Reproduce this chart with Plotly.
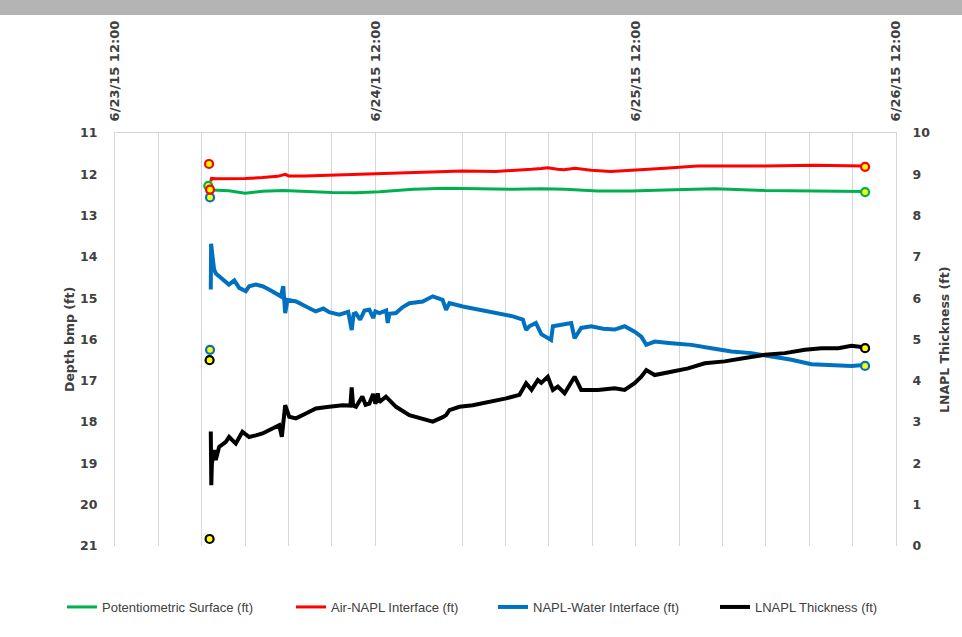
import pandas as pd
import plotly.graph_objects as go

# ---------------- data (hours after 6/23/15 12:00) ----------------
BASE_TIME = "2015-06-23 12:00"

X_TICK_HOURS = [0, 24, 48, 72]
X_TICK_TEXT = ["6/23/15 12:00", "6/24/15 12:00", "6/25/15 12:00", "6/26/15 12:00"]
X_GRID_HOURS = [4, 8, 12, 16, 20, 32, 36, 40, 44, 52, 56, 60, 64, 68]
Y_LEFT_TICKS = [11, 12, 13, 14, 15, 16, 17, 18, 19, 20, 21]
Y_RIGHT_TICKS = [0, 1, 2, 3, 4, 5, 6, 7, 8, 9, 10]
Y_GRID_VALUES = [11, 12, 16, 17, 18]

SERIES_NAMES = ["Potentiometric Surface (ft)", "Air-NAPL Interface (ft)",
                "NAPL-Water Interface (ft)", "LNAPL Thickness (ft)"]

GREEN_H = [8.95, 10.5, 12.0, 13.6, 15.5, 18.2, 20.0, 22.2, 24.4, 27.5, 30.5, 33.6,
           36.7, 39.3, 41.5, 44.5, 47.6, 50.7, 55.3, 59.9, 64.5, 66.1, 69.0]
GREEN_V = [12.38, 12.40, 12.46, 12.41, 12.39, 12.43, 12.44, 12.445, 12.42, 12.365,
           12.34, 12.35, 12.365, 12.35, 12.365, 12.405, 12.405, 12.38, 12.35, 12.39,
           12.405, 12.42, 12.415]

RED_H = [8.83, 8.90, 9.30, 10.5, 12.0, 13.6, 15.0, 15.7, 16.0, 17.5, 19.7, 21.5,
         22.8, 24.0, 25.9, 28.9, 32.0, 35.1, 37.6, 38.4, 39.3, 39.9, 40.8, 41.4,
         42.4, 43.9, 45.7, 47.9, 50.7, 53.7, 56.8, 59.9, 64.5, 69.0]
RED_V = [12.17, 12.10, 12.11, 12.11, 12.10, 12.08, 12.05, 12.00, 12.04, 12.04,
         12.02, 12.01, 12.00, 11.98, 11.96, 11.94, 11.92, 11.93, 11.90, 11.88,
         11.86, 11.84, 11.88, 11.89, 11.855, 11.90, 11.93, 11.90, 11.855, 11.80,
         11.80, 11.80, 11.78, 11.80]

BLUE_H = [8.83, 8.86, 8.95, 9.14, 9.30, 9.60, 10.2, 10.5, 11.0, 11.45,
          12.06, 12.37, 12.98, 13.6, 14.2, 14.83, 15.29, 15.51, 15.69, 15.9,
          16.7, 17.6, 18.5, 19.2, 19.75, 20.68, 21.5, 21.82, 22.0, 22.2,
          22.6, 23.0, 23.45, 23.8, 24.0, 24.37, 25.0, 25.14, 25.3, 25.9,
          26.5, 27.14, 28.37, 29.29, 30.2, 30.52, 30.83, 32.06, 33.6, 35.14,
          36.68, 37.6, 37.9, 38.2, 38.8, 39.3, 39.9, 40.2, 40.37, 41.45,
          42.06, 42.37, 42.98, 43.9, 45.0, 46.06, 46.98, 47.9, 48.52, 48.98,
          49.75, 51.29, 53.14, 54.98, 56.83, 58.68, 60.52, 62.37, 64.2, 66.06,
          67.9, 69.0]
BLUE_V = [14.79, 13.68, 13.90, 14.31, 14.40, 14.47, 14.59, 14.67, 14.57, 14.75,
          14.83, 14.71, 14.67, 14.71, 14.79, 14.87, 14.955, 14.71, 15.36, 15.04,
          15.08, 15.20, 15.32, 15.25, 15.34, 15.40, 15.33, 15.77, 15.38, 15.36,
          15.52, 15.30, 15.28, 15.48, 15.32, 15.36, 15.30, 15.60, 15.38, 15.36,
          15.22, 15.12, 15.08, 14.955, 15.04, 15.28, 15.12, 15.20, 15.28, 15.36,
          15.44, 15.52, 15.77, 15.68, 15.60, 15.87, 15.98, 16.01, 15.68, 15.64,
          15.60, 15.97, 15.72, 15.68, 15.74, 15.76, 15.68, 15.81, 15.93, 16.13,
          16.05, 16.09, 16.13, 16.21, 16.29, 16.33, 16.41, 16.49, 16.60, 16.615,
          16.64, 16.62]

BLACK_H = [8.83, 8.88, 8.93, 9.14, 9.29, 9.60, 10.22, 10.52, 11.14, 11.75,
           12.37, 12.98, 13.6, 14.52, 15.14, 15.38, 15.69, 16.06, 16.68, 17.6,
           18.52, 19.75, 20.98, 21.7, 21.82, 21.95, 22.22, 22.8, 23.1, 23.45,
           23.8, 24.0, 24.1, 24.22, 24.35, 24.98, 25.91, 27.14, 28.37, 29.29,
           30.22, 30.52, 30.83, 31.75, 32.98, 34.52, 36.06, 37.29, 37.9, 38.4,
           38.98, 39.3, 39.9, 40.37, 40.83, 41.45, 42.37, 42.98, 44.52, 46.06,
           46.98, 47.9, 48.52, 48.98, 49.75, 51.29, 52.83, 54.37, 56.2, 58.06,
           59.9, 61.75, 63.6, 65.14, 66.68, 67.9, 69.0]
BLACK_V = [2.77, 1.47, 2.00, 2.32, 2.08, 2.40, 2.52, 2.64, 2.48, 2.765,
           2.64, 2.68, 2.725, 2.846, 2.927, 2.644, 3.41, 3.13, 3.09, 3.21,
           3.33, 3.37, 3.41, 3.40, 3.84, 3.40, 3.37, 3.62, 3.42, 3.45,
           3.68, 3.45, 3.50, 3.70, 3.48, 3.615, 3.37, 3.17, 3.09, 3.01,
           3.12, 3.17, 3.29, 3.37, 3.41, 3.49, 3.575, 3.66, 3.94, 3.78,
           4.02, 3.95, 4.10, 3.78, 3.86, 3.70, 4.10, 3.78, 3.78, 3.82,
           3.78, 3.94, 4.10, 4.26, 4.14, 4.22, 4.30, 4.425, 4.47, 4.55,
           4.63, 4.67, 4.75, 4.79, 4.79, 4.85, 4.81]

# manual gauging points
GREEN_MAN_H = [8.60, 69.15]
GREEN_MAN_V = [12.28, 12.43]
RED_MAN_H = [8.67, 8.76, 69.15]
RED_MAN_V = [11.75, 12.37, 11.82]
BLUE_MAN_H = [8.76, 8.76, 69.15]
BLUE_MAN_V = [12.56, 16.25, 16.64]
BLACK_MAN_H = [8.72, 8.72, 69.15]
BLACK_MAN_V = [4.50, 0.17, 4.79]

# ---------------- helpers ----------------
base = pd.Timestamp(BASE_TIME)


def to_time(hours):
    return [base + pd.Timedelta(hours=h) for h in hours]


COLORS = {"green": "#00B050", "red": "#FF0000", "blue": "#0070C0", "black": "#000000"}
GRID = "#d6d6d6"
TXT = "#404040"
TICKFONT = dict(family="DejaVu Sans", size=12.5, color=TXT, weight="bold")

fig = go.Figure()

line_specs = [
    (GREEN_H, GREEN_V, "green", SERIES_NAMES[0], "y", "legend", 3),
    (RED_H, RED_V, "red", SERIES_NAMES[1], "y", "legend2", 3),
    (BLUE_H, BLUE_V, "blue", SERIES_NAMES[2], "y", "legend3", 4),
    (BLACK_H, BLACK_V, "black", SERIES_NAMES[3], "y2", "legend4", 4),
]
for hs, vs, c, name, yax, leg, w in line_specs:
    fig.add_trace(go.Scatter(x=to_time(hs), y=vs, mode="lines", name=name,
                             line=dict(color=COLORS[c], width=w), yaxis=yax,
                             legend=leg))

marker_specs = [
    (GREEN_MAN_H, GREEN_MAN_V, "green", "y"),
    (BLUE_MAN_H, BLUE_MAN_V, "blue", "y"),
    (RED_MAN_H, RED_MAN_V, "red", "y"),
    (BLACK_MAN_H, BLACK_MAN_V, "black", "y2"),
]
for hs, vs, c, yax in marker_specs:
    fig.add_trace(go.Scatter(x=to_time(hs), y=vs, mode="markers", showlegend=False,
                             marker=dict(symbol="circle", size=8, color="#FFFF00",
                                         line=dict(color=COLORS[c], width=2.2)),
                             yaxis=yax))

L, R, T, B = 115, 66, 133, 91
W, H = 962, 637
PW, PH = W - L - R, H - T - B


def px_x(p):
    return (p - L) / PW


def px_y(p):
    return (H - B - p) / PH


legend_common = dict(orientation="h", yanchor="middle", xanchor="left",
                     y=px_y(607), bgcolor="rgba(0,0,0,0)",
                     font=dict(family="Liberation Sans", size=13, color=TXT),
                     itemwidth=30)

title_font = dict(family="DejaVu Sans", size=12.5, color=TXT, weight="bold")

fig.update_layout(
    width=W, height=H,
    margin=dict(l=L, r=R, t=T, b=B, autoexpand=False),
    paper_bgcolor="white", plot_bgcolor="white",
    xaxis=dict(type="date", side="top",
               range=[base, base + pd.Timedelta(hours=72)],
               tickmode="array", tickvals=to_time(X_TICK_HOURS), ticktext=X_TICK_TEXT,
               tickangle=-90,
               tickfont=dict(family="DejaVu Sans", size=13, color=TXT, weight="bold"),
               ticks="", ticklabelstandoff=8,
               showgrid=True, gridcolor=GRID, gridwidth=1,
               minor=dict(tickmode="array", tickvals=to_time(X_GRID_HOURS),
                          showgrid=True, gridcolor=GRID, gridwidth=1, ticks=""),
               showline=True, linecolor=GRID, linewidth=1, zeroline=False),
    yaxis=dict(range=[21, 11], tickmode="array", tickvals=Y_LEFT_TICKS,
               tickfont=TICKFONT, ticks="", ticklabelstandoff=14,
               showgrid=False, zeroline=False,
               showline=True, linecolor=GRID, linewidth=1),
    yaxis2=dict(range=[0, 10], overlaying="y", side="right", anchor="x",
                tickmode="array", tickvals=Y_RIGHT_TICKS,
                tickfont=TICKFONT, ticks="", ticklabelstandoff=13,
                showgrid=False, zeroline=False,
                showline=True, linecolor=GRID, linewidth=1),
    yaxis3=dict(range=[21, 11], overlaying="y", side="right", anchor="x",
                tickmode="array", tickvals=Y_GRID_VALUES, showticklabels=False,
                ticks="outside", ticklen=4, tickcolor=GRID,
                showgrid=True, gridcolor=GRID, gridwidth=1, zeroline=False),
    legend=dict(legend_common, x=px_x(62)),
    legend2=dict(legend_common, x=px_x(291)),
    legend3=dict(legend_common, x=px_x(493)),
    legend4=dict(legend_common, x=px_x(715)),
    showlegend=True,
    annotations=[
        dict(text="Depth bmp (ft)", xref="paper", yref="paper",
             x=px_x(69), y=px_y(340), xanchor="center", yanchor="middle",
             textangle=-90, showarrow=False, font=title_font),
        dict(text="LNAPL Thickness (ft)", xref="paper", yref="paper",
             x=px_x(944), y=px_y(340), xanchor="center", yanchor="middle",
             textangle=-90, showarrow=False, font=title_font),
    ],
    shapes=[
        dict(type="rect", xref="paper", yref="paper", layer="below",
             x0=px_x(0), x1=px_x(W), y0=px_y(15), y1=px_y(0),
             fillcolor="#b4b4b4", line=dict(width=0)),
    ],
)

fig.write_html("out.html",
               config={"displayModeBar": False},
               post_script="document.body.style.margin='0px';"
                           "document.body.style.overflow='hidden';")
